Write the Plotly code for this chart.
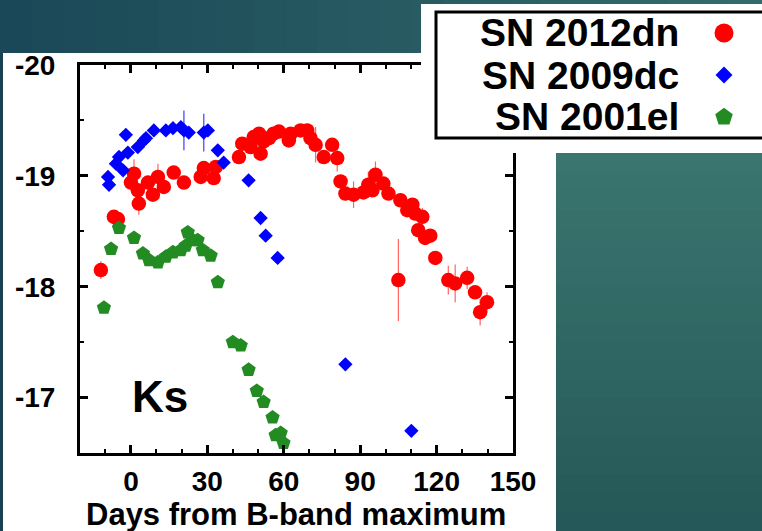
import plotly.graph_objects as go
import numpy as np

W, H = 762, 531
FONT = "Liberation Sans, Arial, Helvetica, sans-serif"

# ---------------- data ----------------
red_name = "SN 2012dn"
red_day = [-11.8, -6.7, -5.1, 0.0, 1.2, 2.7, 3.1, 6.7, 8.6, 10.6, 12.9, 16.8, 20.8,
           27.4, 28.6, 32.5, 33.3, 42.4, 43.7, 47.0, 48.2, 50.3, 50.9, 52.1, 54.2,
           56.0, 58.1, 62.0, 62.7, 66.6, 69.2, 70.5, 72.5, 75.7, 79.0, 81.0, 82.3,
           84.2, 87.4, 91.3, 93.2, 94.8, 96.0, 99.1, 101.1, 105.0, 105.8, 108.5,
           110.5, 111.6, 112.8, 114.4, 115.5, 117.5, 119.5, 124.6, 127.3, 132.0,
           135.1, 137.1, 139.8]
red_mag = [-18.15, -18.63, -18.61, -18.94, -19.02, -18.87, -18.75, -18.94, -18.83,
           -18.99, -18.90, -19.03, -18.94, -18.99, -19.07, -18.98, -19.08, -19.17,
           -19.29, -19.26, -19.35, -19.38, -19.20, -19.31, -19.34, -19.38, -19.40,
           -19.32, -19.38, -19.41, -19.41, -19.34, -19.28, -19.17, -19.28, -19.16,
           -18.95, -18.84, -18.83, -18.85, -18.92, -18.87, -19.01, -18.93, -18.84,
           -18.06, -18.78, -18.69, -18.74, -18.66, -18.51, -18.63, -18.44, -18.46,
           -18.26, -18.06, -18.03, -18.08, -17.95, -17.77, -17.86]
red_err = [0.08, 0.04, 0.04, 0.05, 0.13, 0.06, 0.10, 0.05, 0.05, 0.12, 0.05, 0.04, 0.05,
           0.04, 0.05, 0.04, 0.05, 0.06, 0.05, 0.05, 0.04, 0.04, 0.05, 0.05, 0.04,
           0.04, 0.04, 0.05, 0.04, 0.04, 0.06, 0.05, 0.16, 0.05, 0.05, 0.12, 0.05,
           0.06, 0.12, 0.05, 0.12, 0.05, 0.12, 0.05, 0.05, 0.37, 0.05, 0.05, 0.06,
           0.05, 0.06, 0.08, 0.05, 0.06, 0.05, 0.13, 0.17, 0.10, 0.06, 0.12, 0.09]

blue_name = "SN 2009dc"
blue_day = [-9.0, -8.6, -5.9, -4.7, -3.1, -2.0, -1.2, 2.7, 5.1, 5.9, 9.0, 13.7, 16.5,
            19.6, 20.8, 22.7, 28.6, 30.2, 34.1, 36.4, 46.2, 50.9, 52.9, 57.6, 84.2,
            110.1]
blue_mag = [-18.99, -18.92, -19.11, -19.17, -19.05, -19.37, -19.21, -19.26, -19.32,
            -19.34, -19.41, -19.41, -19.43, -19.44, -19.41, -19.39, -19.39, -19.41,
            -19.23, -19.12, -18.96, -18.62, -18.46, -18.26, -17.30, -16.70]
blue_err = [0.02, 0.02, 0.02, 0.02, 0.02, 0.02, 0.02, 0.03, 0.02, 0.02, 0.02, 0.03, 0.03,
            0.03, 0.18, 0.03, 0.17, 0.03, 0.02, 0.02, 0.02, 0.02, 0.02, 0.05, 0.03,
            0.05]

green_name = "SN 2001el"
green_day = [-10.6, -7.8, -4.7, 1.2, 4.7, 7.1, 10.6, 13.7, 16.5, 19.6, 21.5, 22.3, 24.3,
             26.2, 28.2, 31.3, 34.1, 40.0, 43.1, 46.2, 49.4, 52.1, 55.6, 56.8, 58.8,
             59.9]
green_mag = [-17.81, -18.34, -18.53, -18.44, -18.30, -18.24, -18.22, -18.27, -18.31,
             -18.33, -18.37, -18.49, -18.42, -18.42, -18.33, -18.28, -18.04, -17.50,
             -17.47, -17.25, -17.06, -16.96, -16.82, -16.66, -16.68, -16.59]

x_ticks = [0, 30, 60, 90, 120, 150]
x_ticktext = ["0", "30", "60", "90", "120", "150"]
y_ticks = [-20, -19, -18, -17]
y_ticktext = ["-20", "-19", "-18", "-17"]
x_range = [-20, 150]
y_range = [-16.5, -20]
band_label = "Ks"
x_title = "Days from B-band maximum"

series_names = [red_name, blue_name, green_name]
series_colors = ["#ff0000", "#0000ff", "#228b22"]
series_symbols = ["circle", "diamond", "pentagon"]

# ---------------- figure ----------------
fig = go.Figure()

fig.add_trace(go.Scatter(
    x=red_day, y=red_mag, mode="markers", name=red_name,
    marker=dict(symbol="circle", size=14.5, color=series_colors[0], opacity=1, line=dict(width=0)),
    error_y=dict(type="data", array=red_err, color="rgba(255,60,60,0.8)", thickness=1.2, width=0),
    showlegend=False))
fig.add_trace(go.Scatter(
    x=blue_day, y=blue_mag, mode="markers", name=blue_name,
    marker=dict(symbol="diamond", size=11, color=series_colors[1], opacity=1, line=dict(width=0)),
    error_y=dict(type="data", array=blue_err, color="rgba(40,40,255,0.9)", thickness=1.2, width=0),
    showlegend=False))
fig.add_trace(go.Scatter(
    x=green_day, y=green_mag, mode="markers", name=green_name,
    marker=dict(symbol="pentagon", size=15, color=series_colors[2], opacity=1, line=dict(width=0)),
    showlegend=False))

tickfont = dict(family=FONT, size=28, color="black", weight="bold")

fig.update_layout(
    width=W, height=H,
    margin=dict(l=0, r=0, t=0, b=0, pad=0, autoexpand=False),
    paper_bgcolor="#2a6060",
    plot_bgcolor="rgba(0,0,0,0)",
    showlegend=False,
    xaxis=dict(domain=[80 / W, 513 / W], range=x_range, anchor="y", automargin=False,
               tickmode="array", tickvals=x_ticks, ticktext=x_ticktext,
               ticks="inside", ticklen=8, tickwidth=2.5, tickcolor="black",
               showline=True, linewidth=3, linecolor="black", mirror="allticks",
               showgrid=False, zeroline=False, tickfont=tickfont, ticklabelstandoff=1,
               minor=dict(dtick=10, tick0=0, ticks="inside", ticklen=4, tickwidth=2,
                          tickcolor="black", showgrid=False)),
    xaxis3=dict(domain=[80 / W, 513 / W], range=x_range, anchor="y", overlaying="x",
                automargin=False,
                side="top", tickmode="array", tickvals=x_ticks, ticks="outside",
                ticklen=6, tickwidth=2.5, tickcolor="black", showticklabels=False,
                showline=False, showgrid=False, zeroline=False,
                minor=dict(dtick=10, tick0=0, ticks="outside", ticklen=3, tickwidth=2,
                           tickcolor="black", showgrid=False)),
    yaxis=dict(domain=[(H - 453) / H, (H - 65) / H], range=y_range, anchor="x",
               automargin=False,
               tickmode="array", tickvals=y_ticks, ticktext=y_ticktext,
               ticks="inside", ticklen=8, tickwidth=2.5, tickcolor="black",
               showline=True, linewidth=3, linecolor="black", mirror="allticks",
               showgrid=False, zeroline=False, tickfont=tickfont, ticklabelstandoff=16,
               minor=dict(dtick=0.5, tick0=0, ticks="inside", ticklen=4, tickwidth=2,
                          tickcolor="black", showgrid=False)),
)

# ---------------- background (slide look) ----------------
shapes = []
def lerp(c0, c1, t):
    return "rgb(%d,%d,%d)" % tuple(int(round(a + (b - a) * t)) for a, b in zip(c0, c1))

# top band, horizontal gradient
n = 24
for i in range(n):
    x0 = W * i / n
    x1 = W * (i + 1) / n + 1
    shapes.append(dict(type="rect", xref="paper", yref="paper", x0=x0 / W, x1=x1 / W,
                       y0=1 - 54 / H, y1=1.0, fillcolor=lerp((27, 72, 88), (50, 108, 106), i / (n - 1)),
                       line=dict(width=0), layer="below"))
# right block, vertical gradient
n = 20
for i in range(n):
    y0 = 153 + (H - 153) * i / n
    y1 = 153 + (H - 153) * (i + 1) / n + 1
    shapes.append(dict(type="rect", xref="paper", yref="paper", x0=556 / W, x1=1.0,
                       y0=1 - y1 / H, y1=1 - y0 / H, fillcolor=lerp((58, 117, 111), (37, 88, 88), i / (n - 1)),
                       line=dict(width=0), layer="below"))
# left thin strip
shapes.append(dict(type="rect", xref="paper", yref="paper", x0=0, x1=3 / W, y0=0, y1=1 - 53 / H,
                   fillcolor="rgb(24,66,82)", line=dict(width=0), layer="below"))
# white panel behind the plot
shapes.append(dict(type="rect", xref="paper", yref="paper", x0=3 / W, x1=556 / W, y0=0, y1=1 - 53 / H,
                   fillcolor="white", line=dict(width=0), layer="below"))
# white legend panel, laid over the top-right corner of the frame
shapes.append(dict(type="rect", xref="paper", yref="paper", x0=421 / W, x1=1.0, y0=1 - 153 / H, y1=1 - 4 / H,
                   fillcolor="white", line=dict(width=0), layer="above"))
# legend frame
shapes.append(dict(type="rect", xref="paper", yref="paper", x0=436 / W, x1=780 / W, y0=1 - 138 / H, y1=1 - 12 / H,
                   fillcolor="rgba(0,0,0,0)", line=dict(color="black", width=3), layer="above"))

# legend symbols (pixel-sized, anchored on each legend row)
def symbol_shape(sym):
    if sym == "circle":
        r = 9.5
        return dict(type="circle", x0=-r, x1=r, y0=-r, y1=r)
    if sym == "diamond":
        r = 8.5
        return dict(type="path", path="M0,%g L%g,0 L0,%g L%g,0 Z" % (r, r, -r, -r))
    r = 9.2
    pts = [(r * np.cos(np.radians(a)), r * np.sin(np.radians(a))) for a in (90, 18, -54, -126, 162)]
    return dict(type="path", path="M" + " L".join("%.2f,%.2f" % p for p in pts) + " Z")

row_top, row_h = 12, 42
for i, (sym, col) in enumerate(zip(series_symbols, series_colors)):
    yc = 1 - (row_top + row_h * (i + 0.5)) / H
    s = symbol_shape(sym)
    s.update(xref="paper", yref="paper", xsizemode="pixel", ysizemode="pixel",
             xanchor=724 / W, yanchor=yc, fillcolor=col, line=dict(width=0), layer="above")
    shapes.append(s)
fig.update_layout(shapes=shapes)

# ---------------- texts ----------------
ann = []
for i, name in enumerate(series_names):
    yc = 1 - (row_top + row_h * (i + 0.5)) / H
    ann.append(dict(text=name, xref="paper", yref="paper", x=681 / W, y=yc, xanchor="right",
                    yanchor="middle", showarrow=False,
                    font=dict(family=FONT, size=39, color="black", weight="bold")))
ann.append(dict(text=band_label, xref="x", yref="y", x=11.4, y=-17.01, xanchor="center",
                yanchor="middle", showarrow=False,
                font=dict(family=FONT, size=44, color="black", weight="bold")))
ann.append(dict(text=x_title, xref="paper", yref="paper", x=296 / W, y=1 - 514 / H,
                xanchor="center", yanchor="middle", showarrow=False,
                font=dict(family=FONT, size=31, color="black", weight="bold")))
fig.update_layout(annotations=ann)

fig.write_html("out.html")
